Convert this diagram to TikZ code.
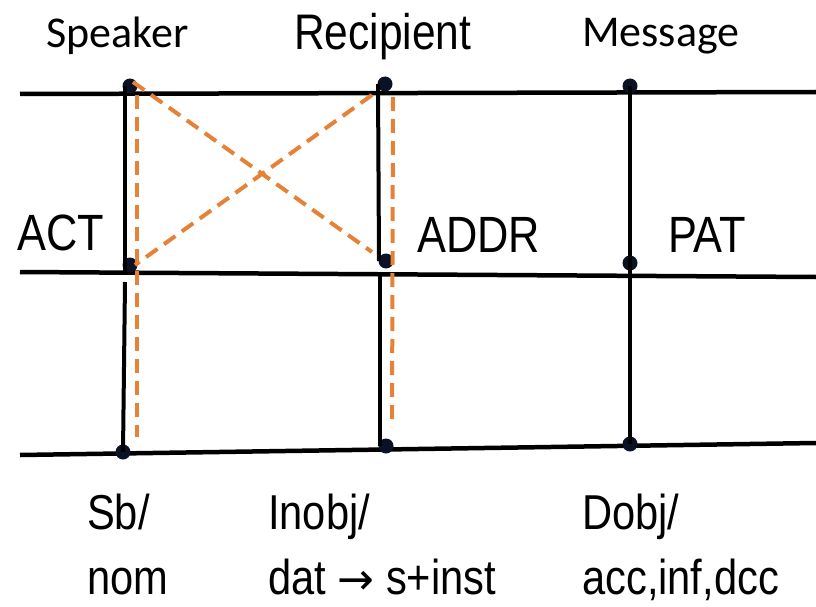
\documentclass[tikz,border=0pt]{standalone}
\usepackage{fontspec}
\newfontfamily\calfont{Carlito}
\newfontfamily\narfont[FakeStretch=0.85]{Liberation Sans}
\newfontfamily\arrowfont{DejaVu Sans}
\definecolor{dashorange}{RGB}{230,130,55}
\definecolor{dotcol}{RGB}{12,18,38}
\begin{document}
\begin{tikzpicture}[x=1pt,y=-1pt,
  rail/.style={line width=4.5pt, black},
  stem/.style={line width=4pt, black},
  link/.style={line width=4pt, dashorange, dash pattern=on 14pt off 8pt},
  dot/.style={circle, fill=dotcol, inner sep=0pt, minimum size=15pt},
  toplab/.style={inner sep=0pt, anchor=base west, font=\calfont\fontsize{44}{50}\selectfont},
  midlab/.style={inner sep=0pt, anchor=base west, font=\narfont\fontsize{51}{60}\selectfont},
  botlab/.style={inner sep=0pt, anchor=base west, font=\narfont\fontsize{49}{60}\selectfont}]
\useasboundingbox (0,0) rectangle (816,607);
% rails
\coordinate (tl) at (20,94);  \coordinate (tr) at (816,92);
\coordinate (ml) at (20,272); \coordinate (mr) at (816,277);
\coordinate (bl) at (20,455); \coordinate (br) at (816,443);
\draw[rail] (tl) -- (tr);
\draw[rail] (ml) -- (mr);
\draw[rail] (bl) -- (br);
% dots
\node[dot] (s1) at (130,86) {};
\node[dot] (r1) at (385,84) {};
\node[dot] (m1) at (630,86) {};
\node[dot] (s2) at (130,265) {};
\node[dot] (r2) at (386,261) {};
\node[dot] (m2) at (630,263) {};
\node[dot] (s3) at (123,452) {};
\node[dot] (r3) at (386,446) {};
\node[dot] (m3) at (630,444) {};
% black stems
\draw[stem] ([xshift=-5pt]s1.center) -- ([xshift=-5pt,yshift=-7pt]s2.center);
\draw[stem] ([xshift=-5pt,yshift=-17pt]s2.center) -- (s3.center);
\draw[stem] ([xshift=-7pt]r1.center) -- ([xshift=-7pt]r2.center);
\draw[stem] ([xshift=-6pt,yshift=-12pt]r2.center) -- ([xshift=-6pt]r3.center);
\draw[stem] (m1.center) -- (m2.center) -- (m3.center);
% orange dashed links
\draw[link] ([xshift=7pt,yshift=-9pt]s1.center) -- ([xshift=14pt,yshift=15pt]s3.center);
\draw[link] ([xshift=8pt,yshift=-13pt]r1.center) -- ([xshift=6pt,yshift=19pt]r3.center);
\draw[link] ([xshift=3pt,yshift=4pt]s1.center) -- ([xshift=-14pt,yshift=9pt]r2.center);
\draw[link] ([xshift=-13pt,yshift=-11pt]r1.center) -- ([xshift=5pt]s2.center);
% labels
\node[toplab] (speaker) at (46,48) {Speaker};
\node[midlab, font=\narfont\fontsize{50}{60}\selectfont] (recipient) at (294,50) {Recipient};
\node[toplab] (message) at (582,47) {Message};
\node[midlab] (act) at (17,250) {ACT};
\node[midlab] (addr) at (417,252) {ADDR};
\node[midlab] (pat) at (668,252) {PAT};
\node[botlab] (sb) at (87,529) {Sb/};
\node[botlab] (nom) at (87,594) {nom};
\node[botlab] (inobj) at (268,529) {Inobj/};
\node[botlab] (dat) at (268,594) {dat {\arrowfont\fontsize{44}{60}\selectfont →} s+inst};
\node[botlab] (dobj) at (582,529) {Dobj/};
\node[botlab] (acc) at (582,594) {acc,inf,dcc};
\end{tikzpicture}
\end{document}
